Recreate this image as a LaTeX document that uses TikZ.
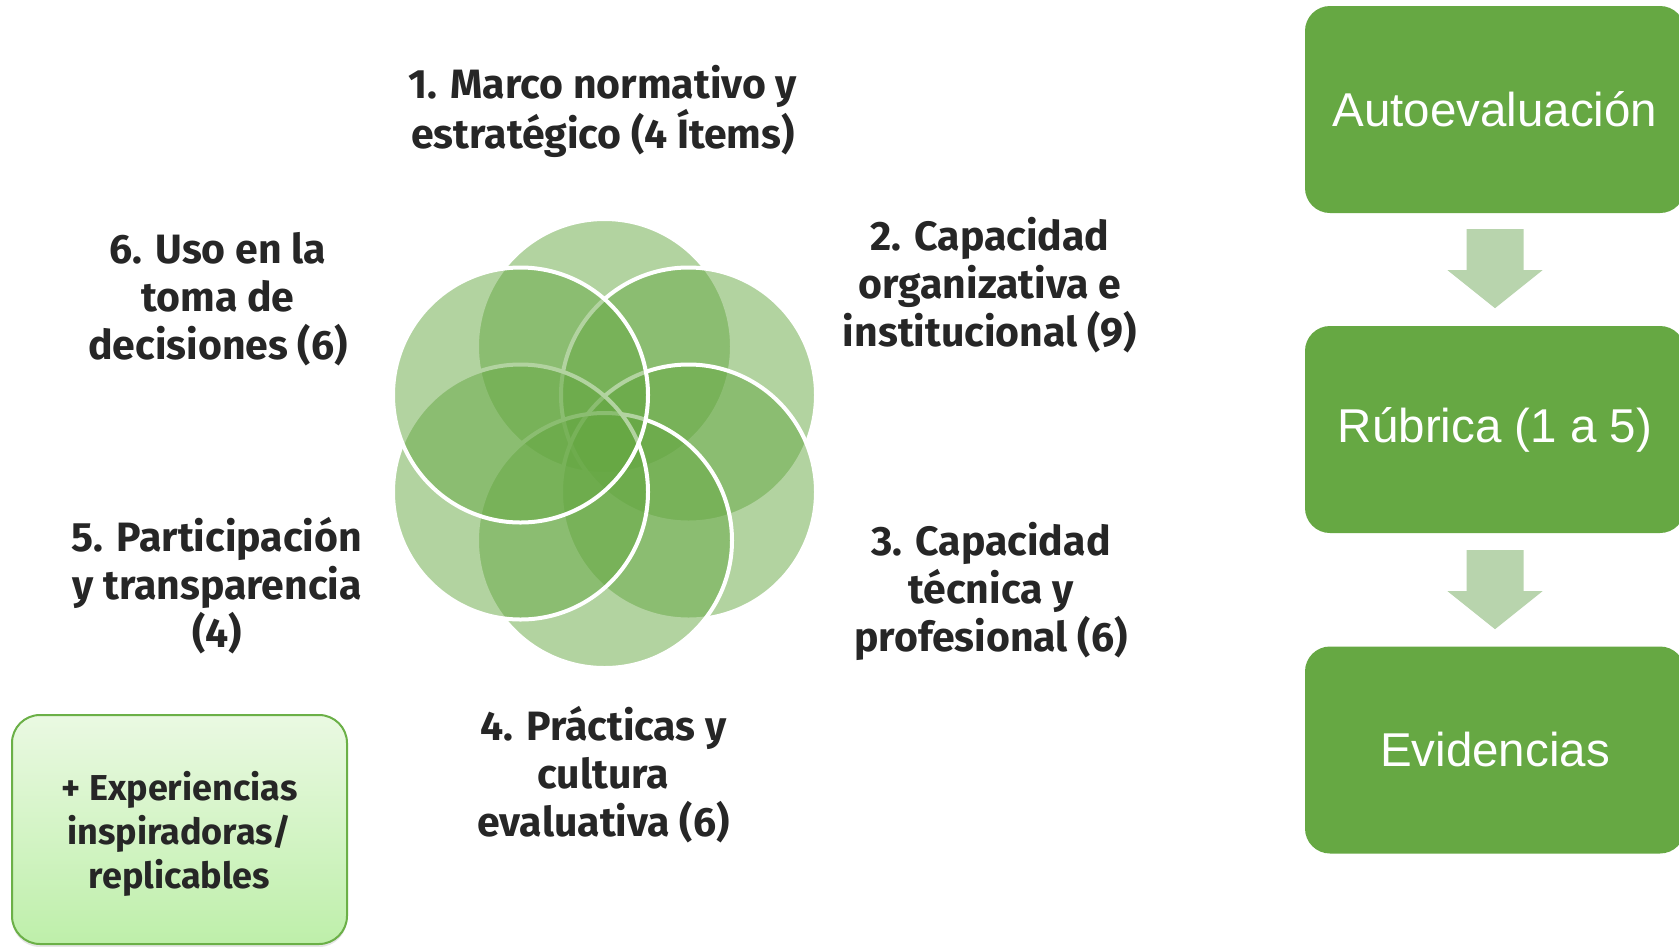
\documentclass[tikz,border=0pt]{standalone}
\usepackage{fontspec}
\setmainfont{Fira Sans}
\newfontfamily\arialf{Liberation Sans}
\usetikzlibrary{calc,shadows}
\definecolor{petalgreen}{HTML}{66A843}
\definecolor{boxgreen}{HTML}{66A843}
\definecolor{arrowgreen}{HTML}{B8D4AD}
\definecolor{labelgray}{HTML}{262626}
\definecolor{expborder}{HTML}{6BB047}
\definecolor{exptop}{HTML}{EAF9E2}
\definecolor{expbot}{HTML}{BEEFAA}
\begin{document}
\begin{tikzpicture}[x=1pt,y=-1pt,
  petal/.style={fill=petalgreen, fill opacity=0.5, draw=white, line width=4pt},
  lbl/.style={font=\fontsize{41}{48}\selectfont\bfseries, text=labelgray, align=center, inner sep=0pt, anchor=base},
  stepbox/.style={rounded corners=25pt, fill=boxgreen, minimum width=380pt, minimum height=207pt, inner sep=0pt, text=white, font=\arialf\fontsize{47.5}{57}\selectfont},
  blockarrow/.style={fill=arrowgreen},
  expbox/.style={rounded corners=28pt, draw=expborder, line width=2pt, top color=exptop, bottom color=expbot, minimum width=335pt, minimum height=229pt, inner sep=0pt, align=center, text=labelgray, font=\fontsize{36}{44}\selectfont\bfseries, drop shadow={shadow xshift=0pt, shadow yshift=-3pt, opacity=0.2}},
]
\useasboundingbox (0,0) rectangle (1679,946);
\fill[white] (0,0) rectangle (1679,946);
\clip (0,0) rectangle (1679,946);

% flower
\draw[petal] (604.5,346.5) circle[radius=127.5pt];
\draw[petal] (688.5,395) circle[radius=127.5pt];
\draw[petal] (688.5,492) circle[radius=127.5pt];
\draw[petal] (604.5,540.5) circle[radius=127.5pt];
\draw[petal] (520.5,492) circle[radius=127.5pt];
\draw[petal] (520.5,395) circle[radius=127.5pt];

% labels (anchored at the baseline of the last line)
\node[lbl] (l1) at (603,148) {1. Marco normativo y\\estratégico (4 Ítems)};
\node[lbl] (l2) at (990,346) {2. Capacidad\\organizativa e\\institucional (9)};
\node[lbl] (l3) at (991,651) {3. Capacidad\\técnica y\\profesional (6)};
\node[lbl] (l4) at (603.5,836) {4. Prácticas y\\cultura\\evaluativa (6)};
\node[lbl] (l5) at (217,647) {5. Participación\\y transparencia\\(4)};
\node[lbl] (l6) at (218,359) {6. Uso en la\\toma de\\decisiones (6)};

% experiences box
\node[expbox] (exp) at (179.5,829.5) {\rule{0pt}{37pt}+ Experiencias\\inspiradoras/\\replicables};

% right column
\node[stepbox] (b1) at (1495,109.5) {Autoevaluación};
\node[stepbox] (b2) at (1495,429.5) {Rúbrica (1 a 5)};
\node[stepbox] (b3) at (1495,750) {Evidencias};

\fill[blockarrow] ($(b1.south)+(-28.5,16)$) -- ++(57,0) -- ++(0,41) -- ++(19,0) -- ++(-47.5,38) -- ++(-47.5,-38) -- ++(19,0) -- cycle;
\fill[blockarrow] ($(b2.south)+(-28.5,17)$) -- ++(57,0) -- ++(0,41) -- ++(19,0) -- ++(-47.5,38) -- ++(-47.5,-38) -- ++(19,0) -- cycle;
\end{tikzpicture}
\end{document}
